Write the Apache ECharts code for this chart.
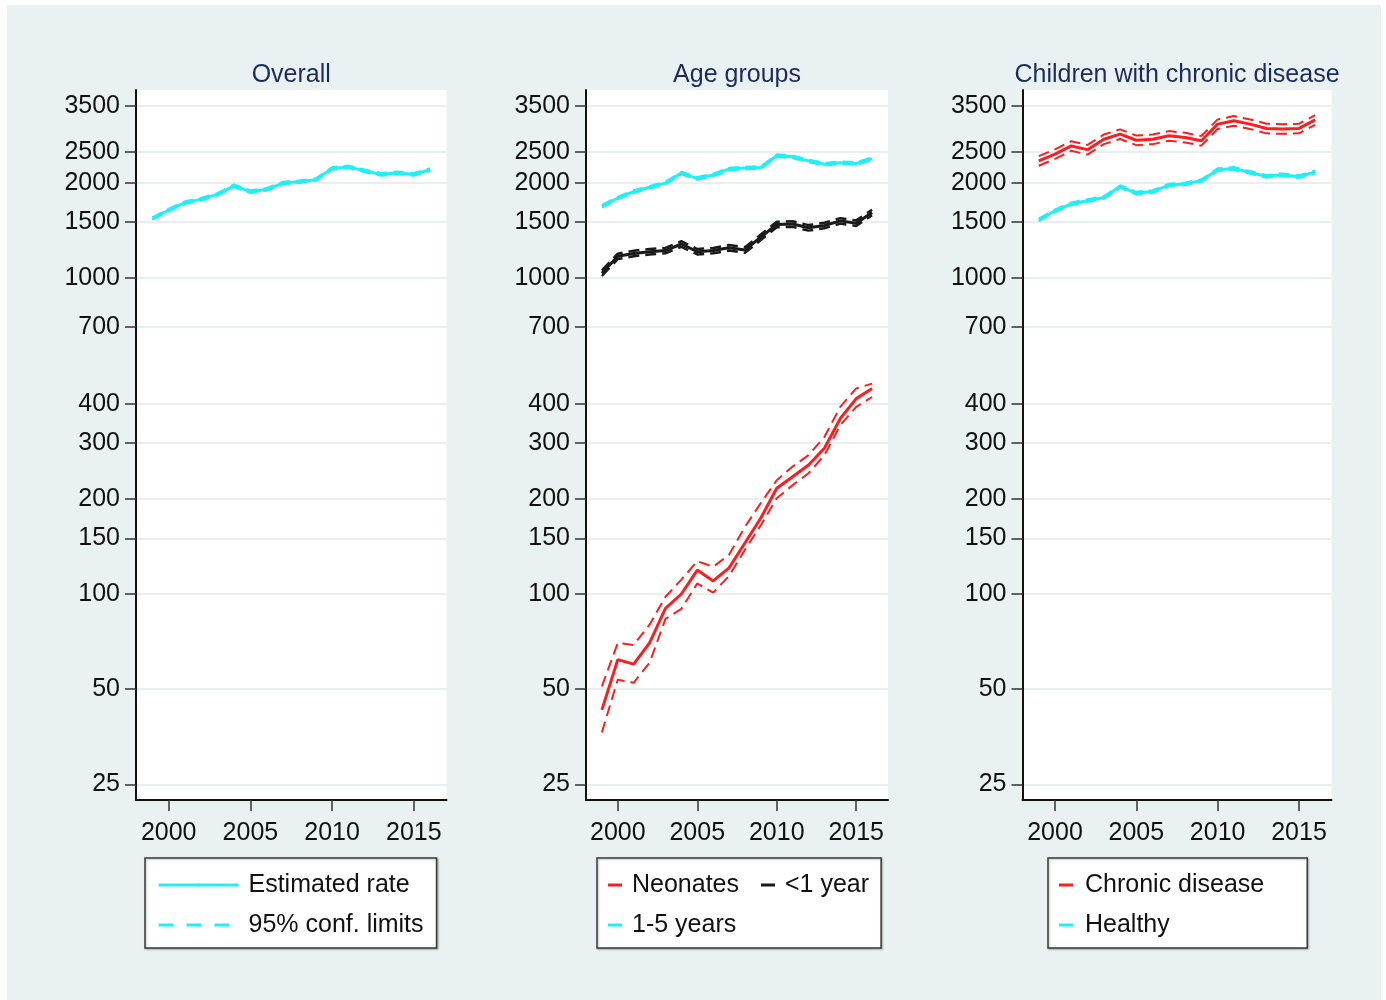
<!DOCTYPE html>
<html><head><meta charset="utf-8">
<script src="https://cdn.jsdelivr.net/npm/echarts@6/dist/echarts.min.js"></script>
<style>html,body{margin:0;padding:0;background:#fff}#c{width:1386px;height:1000px}</style>
</head><body><div id="c"></div>
<script>
const years = [1999,2000,2001,2002,2003,2004,2005,2006,2007,2008,2009,2010,2011,2012,2013,2014,2015,2016];
const yTicks = [25,50,100,150,200,300,400,700,1000,1500,2000,2500,3500];
const xTicks = [2000,2005,2010,2015];
const panelTitles = ['Overall','Age groups','Children with chronic disease'];

// Overall
const overallRate = [1540,1640,1730,1775,1840,1955,1875,1905,1995,2015,2045,2220,2245,2180,2125,2150,2125,2200];
const overallLo   = [1525,1624,1713,1757,1822,1935,1856,1886,1975,1995,2025,2198,2223,2158,2104,2129,2104,2178];
const overallHi   = [1555,1656,1747,1793,1858,1975,1894,1924,2015,2035,2065,2242,2267,2202,2146,2171,2146,2222];

// Age groups
const neoRate = [43,62,60,70,90,100,119,110,121,145,174,216,235,256,289,359,415,447];
const neoLo   = [36.5,53.6,52.4,60.6,83.4,89.7,108,101,114,138,165,201,221,241,275,342,391,420];
const neoHi   = [51,70,69,80,98,111,127,122,133,163,194,229,253,275,314,391,447,463];
const infRate = [1035,1170,1195,1210,1220,1280,1210,1220,1245,1225,1345,1475,1480,1440,1465,1515,1490,1610];
const infLo   = [1014,1147,1171,1186,1196,1254,1186,1196,1220,1200,1318,1446,1450,1411,1436,1485,1460,1578];
const infHi   = [1056,1193,1219,1234,1244,1306,1234,1244,1270,1250,1372,1505,1510,1469,1494,1545,1520,1642];
const kidRate = [1685,1790,1875,1935,1995,2145,2065,2115,2210,2225,2235,2435,2415,2345,2290,2315,2300,2385];
const kidLo   = [1668,1772,1856,1916,1975,2124,2044,2094,2188,2203,2213,2411,2391,2322,2267,2292,2277,2361];
const kidHi   = [1702,1808,1894,1954,2015,2166,2086,2136,2232,2247,2257,2459,2439,2368,2313,2338,2323,2409];

// Chronic disease
const chrRate = [2345,2465,2615,2545,2745,2850,2725,2745,2815,2780,2715,3065,3140,3065,2970,2960,2970,3160];
const chrLo   = [2263,2379,2523,2456,2649,2750,2630,2649,2716,2683,2620,2958,3030,2958,2866,2856,2866,3049];
const chrHi   = [2427,2551,2706,2634,2841,2950,2820,2841,2913,2877,2810,3172,3250,3172,3074,3064,3074,3271];
const hlthRate = [1525,1630,1715,1755,1795,1945,1855,1875,1965,1985,2030,2200,2220,2155,2095,2120,2090,2165];
const hlthLo   = [1510,1614,1698,1737,1777,1926,1836,1856,1945,1965,2010,2178,2198,2133,2074,2099,2069,2143];
const hlthHi   = [1540,1646,1732,1773,1813,1964,1874,1894,1985,2005,2050,2222,2242,2177,2116,2141,2111,2187];

const CYAN = '#1ff0f5', RED = '#ff1c1c', BLACK = '#1a1a1a';
const FONT = 'Liberation Sans, Arial, sans-serif';

const pair = arr => years.map((y, i) => [y, arr[i]]);

const grids = [
  {left: 136, top: 90, width: 310.5, height: 710},
  {left: 586, top: 90, width: 302, height: 710},
  {left: 1022.5, top: 90, width: 309, height: 710}
];

function lineSeries(name, arr, gi, color, dashed, z, w) {
  return {
    name, type: 'line', xAxisIndex: gi, yAxisIndex: gi, data: pair(arr),
    symbol: 'none', showSymbol: false, silent: true, z: z || 2,
    lineStyle: dashed ? {color, width: w || 2, type: [11, 6]} : {color, width: 3},
    itemStyle: {color}
  };
}

const series = [
  lineSeries('95% conf. limits', overallLo, 0, CYAN, true),
  lineSeries('95% conf. limits', overallHi, 0, CYAN, true),
  lineSeries('Estimated rate', overallRate, 0, CYAN, false, 3),

  lineSeries('Neonates lower', neoLo, 1, RED, true),
  lineSeries('Neonates upper', neoHi, 1, RED, true),
  lineSeries('Neonates', neoRate, 1, RED, false, 3),
  lineSeries('<1 year lower', infLo, 1, BLACK, true, 2, 2.5),
  lineSeries('<1 year upper', infHi, 1, BLACK, true, 2, 2.5),
  lineSeries('<1 year', infRate, 1, BLACK, false, 3),
  lineSeries('1-5 years lower', kidLo, 1, CYAN, true),
  lineSeries('1-5 years upper', kidHi, 1, CYAN, true),
  lineSeries('1-5 years', kidRate, 1, CYAN, false, 3),

  lineSeries('Chronic disease lower', chrLo, 2, RED, true),
  lineSeries('Chronic disease upper', chrHi, 2, RED, true),
  lineSeries('Chronic disease', chrRate, 2, RED, false, 3),
  lineSeries('Healthy lower', hlthLo, 2, CYAN, true),
  lineSeries('Healthy upper', hlthHi, 2, CYAN, true),
  lineSeries('Healthy', hlthRate, 2, CYAN, false, 3)
];

const xAxes = grids.map((g, i) => ({
  type: 'value', gridIndex: i, min: 1998, max: 2017,
  axisLine: {show: true, lineStyle: {color: '#111', width: 2}},
  axisTick: {show: true, customValues: xTicks, length: 11, lineStyle: {color: '#333', width: 1.5}},
  axisLabel: {customValues: xTicks, fontSize: 25, color: '#111', fontFamily: FONT, margin: 21, formatter: v => String(v)},
  splitLine: {show: false}
}));

const yAxes = grids.map((g, i) => ({
  type: 'log', logBase: 10, gridIndex: i, min: 22.3, max: 3930,
  axisLine: {show: true, lineStyle: {color: '#111', width: 2}},
  axisTick: {show: true, customValues: yTicks, length: 11, lineStyle: {color: '#333', width: 1.5}},
  axisLabel: {customValues: yTicks, fontSize: 25, color: '#111', fontFamily: FONT, margin: 16, formatter: v => String(Math.round(v))},
  splitLine: {show: true, lineStyle: {color: '#e6eff2', width: 2}},
  minorTick: {show: false}, minorSplitLine: {show: false}
}));

const titles = grids.map((g, i) => ({
  text: panelTitles[i], left: g.left + g.width / 2 - 5, top: 58, textAlign: 'center',
  textStyle: {fontSize: 25, fontWeight: 'normal', color: '#1c2a5c', fontFamily: FONT}
}));

const legendBase = {
  backgroundColor: '#fff', borderColor: '#3a3a3a', borderWidth: 1.5, borderRadius: 0,
  shadowColor: 'rgba(0,0,0,0.25)', shadowBlur: 2, shadowOffsetX: 1, shadowOffsetY: 1,
  selectedMode: false, itemGap: 12
};

const legends = [
  Object.assign({}, legendBase, {
    orient: 'vertical', left: 145, top: 858,
    padding: [13, 13, 9, 12], itemWidth: 80, itemHeight: 4,
    data: [
      {name: 'Estimated rate', lineStyle: {width: 3, type: 'solid'}},
      {name: '95% conf. limits', lineStyle: {width: 3, type: [15, 13]}}
    ],
    textStyle: {fontSize: 25, lineHeight: 28, color: '#111', fontFamily: FONT, padding: [0, 0, 0, 5]}
  }),
  Object.assign({}, legendBase, {
    orient: 'horizontal', left: 597, top: 858, width: 280,
    padding: [13, 2, 9, 11], itemWidth: 14, itemHeight: 3, icon: 'rect',
    data: ['Neonates', '<1 year', '1-5 years'],
    textStyle: {fontSize: 25, lineHeight: 28, color: '#111', fontFamily: FONT, padding: [0, 10, 0, 5]}
  }),
  Object.assign({}, legendBase, {
    orient: 'vertical', left: 1048, top: 858,
    padding: [13, 43, 9, 11], itemWidth: 14, itemHeight: 3, icon: 'rect',
    data: ['Chronic disease', 'Healthy'],
    textStyle: {fontSize: 25, lineHeight: 28, color: '#111', fontFamily: FONT, padding: [0, 0, 0, 7]}
  })
];

const chart = echarts.init(document.getElementById('c'), null, {renderer: 'canvas'});
chart.setOption({
  animation: false,
  backgroundColor: '#ffffff',
  graphic: [{type: 'rect', shape: {x: 7, y: 5, width: 1374, height: 995}, style: {fill: '#e9f1f3'}, z: -10, silent: true}],
  title: titles,
  grid: grids.map(g => Object.assign({show: true, backgroundColor: '#ffffff', borderWidth: 0}, g)),
  xAxis: xAxes,
  yAxis: yAxes,
  legend: legends,
  series
});
</script></body></html>
